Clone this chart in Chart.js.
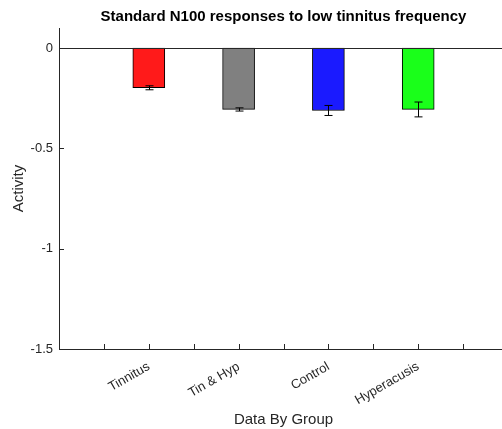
<!DOCTYPE html>
<html>
<head>
<meta charset="utf-8">
<script src="https://cdn.jsdelivr.net/npm/chart.js@4"></script>
<style>
  body { margin: 0; overflow: hidden; background: #fff; }
</style>
</head>
<body>
<canvas id="chart" width="510" height="429"></canvas>
<script>
const groups = ['Tinnitus', 'Tin & Hyp', 'Control', 'Hyperacusis'];
const positions = [1, 2, 3, 4];
const means = [-0.198, -0.306, -0.311, -0.306];
const errs = [0.01, 0.008, 0.025, 0.037];
const colors = ['#ff1a1a', '#808080', '#1a1aff', '#1aff1a'];
const yTicks = [0, -0.5, -1, -1.5];
const xTicks = [0.5, 1, 1.5, 2, 2.5, 3, 3.5, 4, 4.5];

const axisColor = '#262626';
const font = 'Liberation Sans, Arial, sans-serif';

// error bars, inward ticks, zero line and the title
const extras = {
  id: 'extras',
  afterDatasetsDraw(chart) {
    const ctx = chart.ctx;
    const x = chart.scales.x, y = chart.scales.y;
    const a = chart.chartArea;
    ctx.save();
    ctx.strokeStyle = '#000';
    ctx.lineWidth = 1;
    for (let i = 0; i < means.length; i++) {
      const px = Math.round(x.getPixelForValue(positions[i])) + 0.5;
      const y1 = y.getPixelForValue(means[i] + errs[i]);
      const y2 = y.getPixelForValue(means[i] - errs[i]);
      ctx.beginPath();
      ctx.moveTo(px, y1); ctx.lineTo(px, y2);
      ctx.moveTo(px - 4, y1); ctx.lineTo(px + 4, y1);
      ctx.moveTo(px - 4, y2); ctx.lineTo(px + 4, y2);
      ctx.stroke();
    }
    ctx.strokeStyle = axisColor;
    const zy = Math.round(y.getPixelForValue(0)) + 0.5;
    ctx.beginPath();
    ctx.moveTo(a.left, zy); ctx.lineTo(a.right, zy);
    xTicks.forEach(v => {
      const px = Math.round(x.getPixelForValue(v)) + 0.5;
      ctx.moveTo(px, a.bottom); ctx.lineTo(px, a.bottom - 5);
    });
    yTicks.forEach(v => {
      const py = Math.round(y.getPixelForValue(v)) + 0.5;
      ctx.moveTo(a.left, py); ctx.lineTo(a.left + 5, py);
    });
    ctx.stroke();
    ctx.fillStyle = '#000';
    ctx.font = 'bold 15px ' + font;
    ctx.textAlign = 'center';
    ctx.textBaseline = 'middle';
    ctx.fillText('Standard N100 responses to low tinnitus frequency', (a.left + a.right) / 2, 17);
    ctx.restore();
  }
};

new Chart(document.getElementById('chart'), {
  type: 'bar',
  data: {
    datasets: [{
      data: positions.map((p, i) => ({ x: p, y: means[i] })),
      backgroundColor: colors,
      borderColor: '#000',
      borderWidth: 1,
      borderSkipped: false,
      barThickness: 32
    }]
  },
  options: {
    responsive: false,
    animation: false,
    layout: { padding: { top: 28, right: 2, left: 0, bottom: 0 } },
    plugins: { legend: { display: false }, tooltip: { enabled: false } },
    scales: {
      x: {
        type: 'linear',
        offset: false,
        min: 0,
        max: 5,
        afterBuildTicks: s => { s.ticks = xTicks.map(v => ({ value: v })); },
        afterFit: s => { s.height = 80; },
        grid: { display: false },
        border: { color: axisColor },
        ticks: {
          autoSkip: false,
          minRotation: 30,
          maxRotation: 30,
          padding: 2,
          color: '#262626',
          font: { family: font, size: 13 },
          callback: v => Number.isInteger(v) ? groups[v - 1] : ''
        },
        title: {
          display: true,
          text: 'Data By Group',
          color: '#262626',
          font: { family: font, size: 15 },
          padding: { top: 8, bottom: 0 }
        }
      },
      y: {
        min: -1.5,
        max: 0.1,
        afterBuildTicks: s => { s.ticks = yTicks.map(v => ({ value: v })); },
        afterFit: s => { s.width = 59; },
        grid: { display: false, drawTicks: false },
        border: { color: axisColor },
        ticks: {
          padding: 6,
          color: '#262626',
          font: { family: font, size: 13 },
          callback: v => String(v)
        },
        title: {
          display: true,
          text: 'Activity',
          color: '#262626',
          font: { family: font, size: 15 },
          padding: { top: 10, bottom: 4 }
        }
      }
    }
  },
  plugins: [extras]
});
</script>
</body>
</html>
